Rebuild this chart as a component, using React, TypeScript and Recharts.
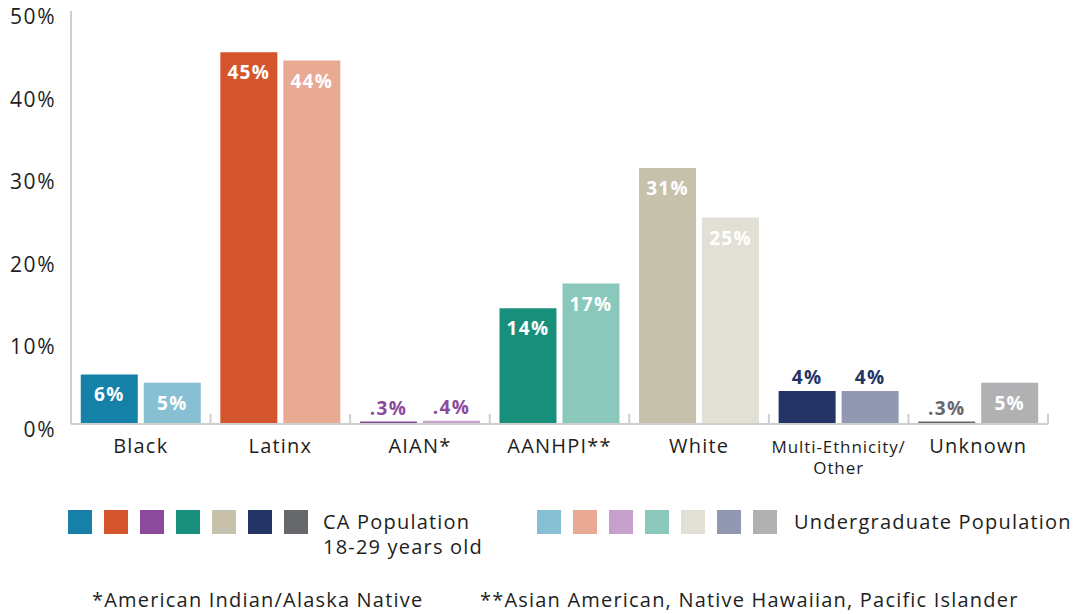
import { Bar, BarChart, Cell, LabelList, XAxis, YAxis } from "recharts"

const categories = ["Black", "Latinx", "AIAN*", "AANHPI**", "White", "Multi-Ethnicity/ Other", "Unknown"]
const caPopulation = [6, 45, 0.3, 14, 31, 4, 0.3]
const undergradPopulation = [5, 44, 0.4, 17, 25, 4, 5]
const caColors = ["#1580a8", "#d4552b", "#8b4a9c", "#188f7b", "#c6c1aa", "#233465", "#67686c"]
const ugColors = ["#87c0d3", "#e8aa93", "#c6a1cc", "#8bc8bc", "#e2e0d5", "#9198b1", "#b1b1b3"]
const yTicks = [0, 10, 20, 30, 40, 50]

const FONT = "'Open Sans', sans-serif"
const TEXT = "#1e1e1e"
const SPACING = 1.2

const chartData = categories.map((name, i) => ({
  name,
  ca: caPopulation[i],
  ug: undergradPopulation[i],
}))

const PLOT_W = 1073 - 71 - 25
const BAND = PLOT_W / categories.length

function fmt(v: number): string {
  return v < 1 ? `.${Math.round(v * 10)}%` : `${v}%`
}

// big bars get a white label inside, small ones a coloured label on top
function renderValueLabel(props: any) {
  const { x, y, width, value, index } = props
  const v = Number(value)
  const cx = Number(x) + Number(width) / 2
  const inside = v >= 5
  return (
    <text
      x={cx}
      y={inside ? Number(y) + 27 : Number(y) - 7}
      textAnchor="middle"
      fontFamily={FONT}
      fontWeight={700}
      fontSize={19}
      letterSpacing={1.3}
      fill={inside ? "#fff" : caColors[index]}
    >
      {fmt(v)}
    </text>
  )
}

const CategoryTick = ({ x, y, payload }: any) => {
  const label = String(payload.value)
  const multi = label.includes("/ ")
  return (
    <g>
      <line x1={x + BAND / 2} x2={x + BAND / 2} y1={y} y2={y - 10} stroke="#cfcfcf" strokeWidth={2} />
      {multi ? (
        <text x={x} y={y + 29} textAnchor="middle" fontFamily={FONT} fontSize={17} letterSpacing={0.9} fill={TEXT}>
          <tspan x={x} dy={0}>{label.split("/ ")[0] + "/"}</tspan>
          <tspan x={x} dy={21}>{label.split("/ ")[1]}</tspan>
        </text>
      ) : (
        <text x={x} y={y + 29} textAnchor="middle" fontFamily={FONT} fontSize={20} letterSpacing={SPACING} fill={TEXT}>
          {label}
        </text>
      )}
    </g>
  )
}

const PercentTick = ({ y, payload }: any) => (
  <text x={56} y={y + 13} textAnchor="end" fontFamily={FONT} fontSize={21} letterSpacing={1.5} fill={TEXT}>
    {payload.value}%
  </text>
)

function Swatches({ colors }: { colors: string[] }) {
  return (
    <div style={{ display: "flex", gap: 12 }}>
      {colors.map((c) => (
        <div key={c} style={{ width: 24, height: 24, background: c }} />
      ))}
    </div>
  )
}

export default function App() {
  return (
    <div
      style={{
        position: "absolute",
        left: 0,
        top: 0,
        width: 1073,
        height: 614,
        background: "#fff",
        fontFamily: FONT,
        color: TEXT,
        letterSpacing: SPACING,
      }}
    >
      <BarChart
        width={1073}
        height={490}
        data={chartData}
        margin={{ top: 11, right: 25, left: 0, bottom: 0 }}
        barCategoryGap="7%"
        barGap={6}
      >
        <YAxis
          domain={[0, 50]}
          ticks={yTicks}
          width={71}
          axisLine={{ stroke: "#cfcfcf", strokeWidth: 2 }}
          tickLine={false}
          tick={<PercentTick />}
        />
        <XAxis
          dataKey="name"
          height={66}
          axisLine={{ stroke: "#cfcfcf", strokeWidth: 2 }}
          tickLine={false}
          tickSize={0}
          tickMargin={0}
          interval={0}
          tick={<CategoryTick />}
        />
        <Bar dataKey="ca" isAnimationActive={false}>
          {chartData.map((d, i) => (
            <Cell key={d.name} fill={caColors[i]} />
          ))}
          <LabelList dataKey="ca" content={renderValueLabel} />
        </Bar>
        <Bar dataKey="ug" isAnimationActive={false}>
          {chartData.map((d, i) => (
            <Cell key={d.name} fill={ugColors[i]} />
          ))}
          <LabelList dataKey="ug" content={renderValueLabel} />
        </Bar>
      </BarChart>

      <div style={{ position: "absolute", left: 68, top: 510, display: "flex", alignItems: "flex-start" }}>
        <Swatches colors={caColors} />
        <div style={{ marginLeft: 15, fontSize: 20, lineHeight: "25px", marginTop: -1 }}>
          CA Population
          <br />
          18-29 years old
        </div>
      </div>
      <div style={{ position: "absolute", left: 537, top: 510, display: "flex", alignItems: "flex-start" }}>
        <Swatches colors={ugColors} />
        <div style={{ marginLeft: 17, fontSize: 20, lineHeight: "25px", marginTop: -1 }}>
          Undergraduate Population
        </div>
      </div>

      <div style={{ position: "absolute", left: 92, top: 587, fontSize: 20, lineHeight: "25px" }}>
        *American Indian/Alaska Native
      </div>
      <div style={{ position: "absolute", left: 480, top: 587, fontSize: 20, lineHeight: "25px" }}>
        **Asian American, Native Hawaiian, Pacific Islander
      </div>
    </div>
  )
}
